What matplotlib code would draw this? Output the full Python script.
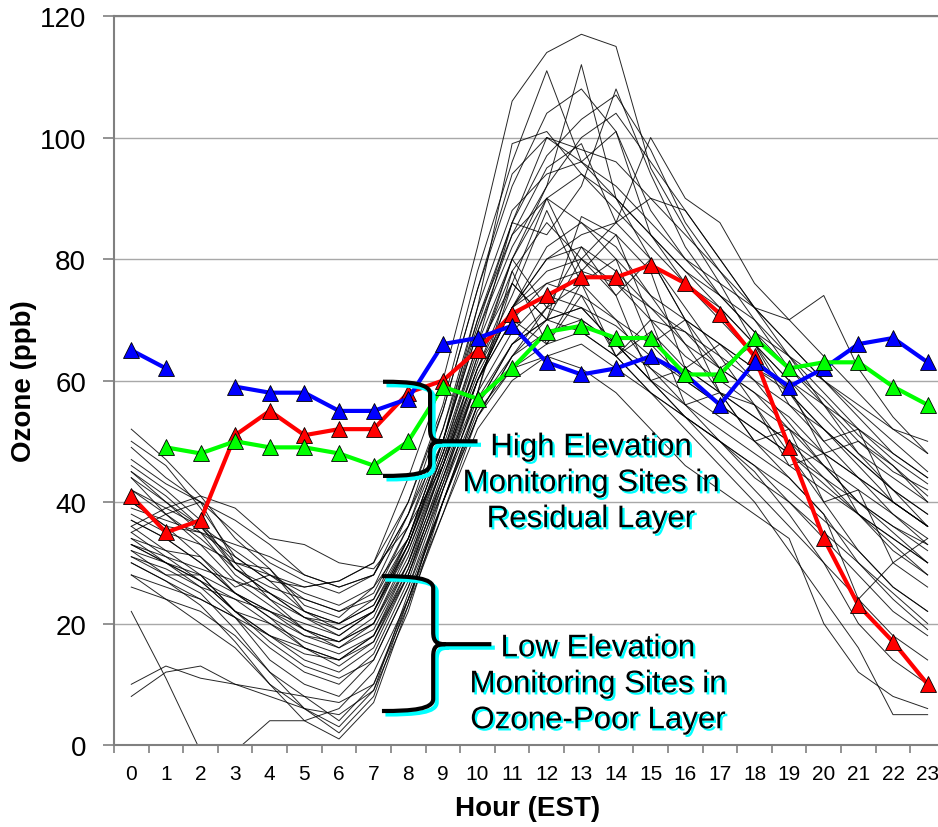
import matplotlib
matplotlib.use('Agg')
import matplotlib.pyplot as plt
import matplotlib.patheffects as pe
from matplotlib.path import Path
from matplotlib.patches import PathPatch
import numpy as np

plt.rcParams['font.family'] = ['Liberation Sans', 'DejaVu Sans']

hours = list(range(24))

# highlighted sites
blue = [65, 62, np.nan, 59, 58, 58, 55, 55, 57, 66, 67, 69, 63, 61, 62, 64, 61, 56, 63, 59, 62, 66, 67, 63]
red = [41, 35, 37, 51, 55, 51, 52, 52, 58, 60, 65, 71, 74, 77, 77, 79, 76, 71, 64, 49, 34, 23, 17, 10]
green = [np.nan, 49, 48, 50, 49, 49, 48, 46, 50, 59, 57, 62, 68, 69, 67, 67, 61, 61, 67, 62, 63, 63, 59, 56]

# all other monitoring sites (thin black lines)
sites = [
    [52, 47, 41, 34, 29, 23, 21, 26, 38, 55, 75, 92, 104, 108, 101, 88, 80, 74, 68, 62, 57, 51, 46, 41],
    [50, 46, 39, 31, 27, 26, 27, 30, 44, 60, 82, 106, 114, 117, 115, 95, 85, 76, 66, 58, 50, 44, 38, 33],
    [49, 44, 40, 30, 29, 22, 20, 24, 36, 52, 70, 84, 95, 99, 86, 90, 88, 80, 72, 66, 60, 54, 48, 44],
    [47, 43, 40, 35, 30, 27, 25, 28, 40, 56, 78, 96, 111, 96, 101, 84, 76, 70, 64, 58, 52, 47, 42, 38],
    [46, 42, 37, 29, 25, 21, 18, 22, 34, 50, 68, 82, 92, 112, 90, 80, 70, 66, 60, 53, 46, 40, 35, 30],
    [45, 40, 36, 30, 24, 19, 17, 21, 33, 48, 66, 86, 84, 92, 108, 94, 82, 74, 70, 62, 56, 50, 45, 42],
    [44, 38, 33, 27, 23, 19, 16, 20, 32, 47, 64, 78, 86, 80, 86, 100, 90, 86, 76, 70, 64, 58, 52, 48],
    [42, 38, 34, 29, 26, 24, 22, 25, 36, 50, 69, 86, 97, 103, 107, 98, 86, 78, 70, 64, 58, 52, 47, 43],
    [40, 36, 35, 31, 27, 22, 19, 22, 33, 48, 65, 76, 70, 87, 84, 78, 62, 66, 62, 59, 48, 50, 46, 40],
    [39, 37, 35, 33, 31, 28, 26, 28, 38, 52, 72, 99, 101, 94, 88, 82, 76, 72, 66, 60, 54, 48, 44, 40],
    [37, 34, 30, 25, 21, 16, 14, 18, 30, 46, 62, 74, 88, 76, 80, 66, 70, 58, 56, 46, 48, 38, 33, 28],
    [36, 39, 41, 39, 34, 33, 30, 29, 36, 46, 60, 70, 76, 74, 70, 66, 60, 56, 52, 48, 44, 40, 36, 33],
    [35, 38, 40, 37, 33, 28, 26, 28, 38, 50, 68, 84, 90, 86, 80, 74, 70, 66, 62, 58, 52, 46, 40, 36],
    [34, 32, 31, 26, 28, 25, 23, 26, 34, 48, 63, 80, 72, 82, 74, 80, 70, 62, 66, 56, 50, 52, 40, 36],
    [33, 31, 29, 27, 25, 21, 20, 23, 33, 47, 62, 72, 76, 78, 76, 72, 68, 64, 60, 56, 52, 47, 42, 38],
    [33, 30, 28, 25, 22, 18, 16, 19, 30, 44, 58, 78, 66, 74, 64, 70, 56, 58, 50, 52, 40, 42, 30, 34],
    [32, 28, 28, 22, 20, 17, 15, 18, 29, 43, 57, 66, 70, 72, 69, 64, 60, 56, 52, 48, 43, 38, 34, 30],
    [31, 29, 26, 24, 22, 20, 18, 22, 32, 46, 61, 72, 78, 80, 76, 70, 64, 60, 56, 52, 48, 44, 40, 36],
    [30, 27, 24, 21, 18, 15, 14, 18, 28, 42, 56, 64, 68, 70, 66, 62, 58, 54, 50, 46, 42, 38, 34, 30],
    [28, 26, 24, 21, 14, 10, 8, 14, 26, 40, 54, 62, 66, 68, 64, 58, 54, 50, 44, 40, 35, 30, 25, 20],
    [26, 24, 22, 18, 12, 8, 4, 10, 24, 38, 52, 60, 64, 66, 62, 58, 54, 50, 46, 40, 34, 28, 22, 18],
    [22, 11, -1, -1, 4, 4, 6, 12, 24, 40, 55, 62, 64, 62, 58, 52, 46, 42, 38, 34, 20, 12, 8, 6],
    [10, 13, 11, 10, 8, 6, 5, 9, 22, 40, 56, 66, 70, 68, 64, 58, 52, 46, 40, 32, 24, 16, 5, 5],
    [8, 12, 13, 10, 9, 8, 7, 10, 23, 42, 58, 68, 74, 72, 66, 60, 54, 48, 42, 36, 30, 20, 14, 10],
    [28, 24, 20, 16, 10, 6, 3, 9, 25, 40, 54, 64, 72, 76, 70, 62, 56, 50, 45, 38, 30, 24, 18, 14],
    [38, 35, 33, 30, 28, 26, 27, 30, 40, 55, 75, 94, 100, 98, 96, 90, 84, 78, 72, 66, 60, 55, 50, 45],
    [34, 30, 27, 24, 20, 16, 14, 17, 29, 45, 60, 70, 66, 76, 64, 68, 62, 58, 54, 50, 46, 42, 38, 34],
    [36, 32, 28, 22, 18, 14, 12, 16, 28, 44, 60, 72, 80, 84, 86, 80, 72, 64, 56, 48, 40, 32, 26, 22],
    [42, 39, 36, 32, 28, 24, 22, 24, 34, 50, 72, 88, 94, 96, 92, 86, 80, 76, 72, 70, 74, 62, 54, 48],
    [45, 41, 36, 29, 25, 22, 20, 23, 34, 50, 70, 86, 100, 96, 90, 84, 78, 72, 66, 60, 56, 52, 48, 44],
    [31, 28, 25, 19, 12, 6, 2, 8, 24, 40, 56, 66, 72, 70, 66, 60, 54, 50, 46, 42, 37, 32, 26, 22],
    [30, 27, 23, 17, 10, 4, 1, 7, 23, 38, 54, 64, 70, 72, 66, 60, 56, 52, 48, 44, 38, 30, 24, 19],
    [35, 31, 27, 22, 17, 13, 11, 14, 26, 42, 58, 76, 70, 80, 74, 60, 62, 58, 54, 50, 44, 38, 32, 28],
    [40, 36, 31, 25, 21, 18, 17, 20, 30, 46, 64, 80, 92, 100, 104, 96, 88, 80, 72, 64, 56, 48, 42, 36],
    [33, 30, 26, 21, 16, 12, 10, 15, 27, 43, 60, 72, 82, 86, 82, 74, 66, 58, 50, 44, 38, 24, 30, 26],
    [37, 34, 30, 25, 22, 19, 17, 20, 31, 46, 62, 76, 90, 78, 84, 70, 68, 62, 58, 52, 46, 40, 36, 32],
    [32, 30, 27, 22, 18, 16, 13, 17, 28, 44, 60, 72, 80, 82, 78, 72, 66, 62, 58, 54, 48, 44, 40, 36],
    [44, 40, 35, 28, 24, 21, 19, 22, 33, 49, 66, 80, 90, 94, 90, 84, 78, 74, 68, 64, 60, 56, 52, 50],
]

fig = plt.figure(figsize=(9.38, 8.28), dpi=100)
ax = fig.add_axes([0.1215, 0.0990, 0.8859, 0.8804])

for s in sites:
    ax.plot(hours, s, color='black', lw=0.7, alpha=0.85, zorder=2)

mk = dict(marker='^', markersize=11, markeredgecolor='black', markeredgewidth=0.6, lw=3)
ax.plot(hours, red, color='#ff0000', zorder=4, **mk)
ax.plot(hours, blue, color='#0000ff', zorder=5, **mk)
ax.plot(hours, green, color='#00ff00', zorder=6, **mk)


def brace(x0, xv, xt, ytop, ymid, ybot):
    rx, ry = 0.35, 2.0
    xa = x0 + (xv - x0) * 0.6
    verts = [(x0, ytop), (xa, ytop), (xv, ytop - 0.3), (xv, ytop - ry),
             (xv, ymid + ry),
             (xv, ymid + 0.4), (xv + 0.1, ymid), (xv + rx, ymid),
             (xt, ymid),
             (xv + rx, ymid),
             (xv + 0.1, ymid), (xv, ymid - 0.4), (xv, ymid - ry),
             (xv, ybot + ry),
             (xv, ybot + 0.3), (xa, ybot), (x0, ybot)]
    codes = [Path.MOVETO, Path.CURVE4, Path.CURVE4, Path.CURVE4,
             Path.LINETO,
             Path.CURVE4, Path.CURVE4, Path.CURVE4,
             Path.LINETO,
             Path.MOVETO,
             Path.CURVE4, Path.CURVE4, Path.CURVE4,
             Path.LINETO,
             Path.CURVE4, Path.CURVE4, Path.CURVE4]
    p = PathPatch(Path(verts, codes), fill=False, edgecolor='black', lw=3,
                  capstyle='butt', zorder=7, clip_on=False)
    p.set_path_effects([pe.SimpleLineShadow(offset=(2.5, -2.5), shadow_color='cyan', alpha=1),
                        pe.Normal()])
    ax.add_patch(p)


brace(7.27, 8.63, 10.0, 59.8, 50.0, 44.3)
brace(7.24, 8.72, 10.4, 27.8, 16.6, 5.6)

shadow = [pe.withSimplePatchShadow(offset=(1.6, -1.6), shadow_rgbFace='cyan', alpha=1)]
ax.text(13.28, 43.1, 'High Elevation\nMonitoring Sites in\nResidual Layer', ha='center', va='center',
        fontsize=22.5, linespacing=1.26, zorder=8, path_effects=shadow)
ax.text(13.48, 10.0, 'Low Elevation\nMonitoring Sites in\nOzone-Poor Layer', ha='center', va='center',
        fontsize=22.5, linespacing=1.26, zorder=8, path_effects=shadow)

ax.set_xlim(-0.5, 23.5)
ax.set_ylim(0, 120)
ax.set_yticks(range(0, 121, 20))
ax.set_xticks(hours)
ax.set_xticks(np.arange(-0.5, 24, 1), minor=True)
ax.tick_params(axis='x', which='major', length=0, pad=14, labelsize=15)
ax.tick_params(axis='x', which='minor', length=6, color='#808080', width=1.2)
ax.tick_params(axis='y', length=8, color='#808080', width=1.2, pad=12, labelsize=20)
ax.yaxis.grid(True, color='#a8a8a8', lw=1)
ax.set_axisbelow(True)
for side in ['left', 'bottom', 'top']:
    ax.spines[side].set_color('#808080')
    ax.spines[side].set_linewidth(1.5)
ax.spines['right'].set_visible(False)

ax.set_xlabel('Hour (EST)', fontsize=20, fontweight='bold')
ax.set_ylabel('Ozone (ppb)', fontsize=20, fontweight='bold')
ax.xaxis.set_label_coords(0.498, -0.068)
ax.yaxis.set_label_coords(-0.093, 0.5)

fig.savefig('out.png', dpi=100)
